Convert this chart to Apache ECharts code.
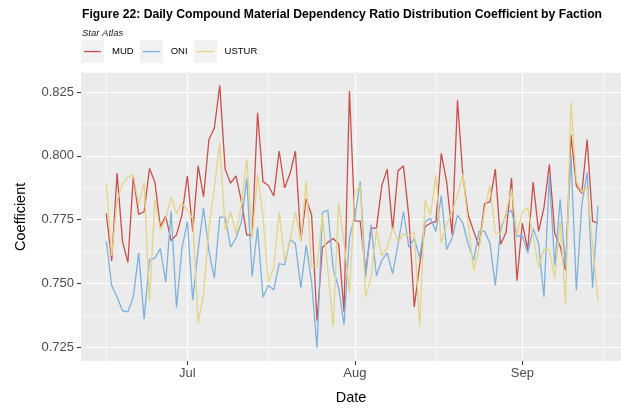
<!DOCTYPE html>
<html>
  <head>
    <meta charset="UTF-8">
    <title>Figure 22</title>
    <script src="https://cdn.jsdelivr.net/npm/echarts@6/dist/echarts.min.js"></script>
    <style>
      html, body { margin: 0; padding: 0; background: #fff; }
      #main { width: 621px; height: 410px; }
    </style>
  </head>
  <body>
    <div id="main"></div>
    <script type="text/javascript">
      // daily values, first day 2024-06-16, one value per day
      var startDay = Date.UTC(2024, 5, 16);
      var seriesNames = ['MUD', 'ONI', 'USTUR'];
      var seriesColors = ['#CB4E4C', '#7EB0DC', '#E3D487'];

      var mud = [0.7775,0.7588,0.7933,0.7665,0.7582,0.7918,0.7771,0.7781,0.7951,0.7897,
                 0.7723,0.7764,0.7668,0.7691,0.7768,0.7922,0.7704,0.7961,0.7839,0.8064,
                 0.8109,0.8276,0.7948,0.7893,0.7922,0.7823,0.7689,0.7689,0.8169,0.7899,
                 0.7884,0.7843,0.8019,0.7874,0.7930,0.8019,0.7668,0.7831,0.7768,0.7354,
                 0.7641,0.7661,0.7676,0.7655,0.7389,0.8254,0.7745,0.7744,0.7543,0.7717,
                 0.7717,0.7884,0.7948,0.7710,0.7942,0.7961,0.7762,0.7408,0.7575,0.7723,
                 0.7736,0.7742,0.8010,0.7897,0.7691,0.8218,0.7920,0.7766,0.7704,0.7646,
                 0.7813,0.7820,0.7948,0.7654,0.7701,0.7913,0.7511,0.7736,0.7633,0.7897,
                 0.7704,0.7796,0.7967,0.7697,0.7645,0.7551,0.8083,0.7882,0.7853,0.8064,
                 0.7744,0.7736];
      var oni = [0.7665,0.7492,0.7447,0.7393,0.7389,0.7447,0.7620,0.7360,0.7593,0.7599,
                 0.7637,0.7505,0.7784,0.7406,0.7637,0.7742,0.7434,0.7633,0.7796,0.7627,
                 0.7521,0.7760,0.7760,0.7642,0.7678,0.7740,0.7912,0.7527,0.7719,0.7447,
                 0.7492,0.7475,0.7578,0.7573,0.7672,0.7656,0.7483,0.7650,0.7505,0.7248,
                 0.7778,0.7787,0.7556,0.7483,0.7338,0.7681,0.7762,0.7899,0.7524,0.7730,
                 0.7530,0.7591,0.7620,0.7537,0.7655,0.7781,0.7642,0.7676,0.7601,0.7742,
                 0.7755,0.7704,0.7843,0.7633,0.7678,0.7768,0.7736,0.7652,0.7591,0.7704,
                 0.7704,0.7659,0.7492,0.7717,0.7768,0.7787,0.7685,0.7685,0.7619,0.7714,
                 0.7659,0.7447,0.7922,0.7569,0.7830,0.7563,0.8003,0.7473,0.7807,0.7935,
                 0.7483,0.7804];
      var ustur = [0.7893,0.7608,0.7826,0.7890,0.7916,0.7925,0.7807,0.7897,0.7428,0.7830,
                   0.7710,0.7753,0.7839,0.7772,0.7816,0.7787,0.7753,0.7344,0.7460,0.7717,
                   0.7874,0.8051,0.7710,0.7781,0.7695,0.7807,0.7987,0.7678,0.7927,0.7762,
                   0.7505,0.7563,0.7781,0.7588,0.7667,0.7781,0.7669,0.7899,0.7566,0.7565,
                   0.7768,0.7556,0.7331,0.7817,0.7665,0.7466,0.7857,0.7884,0.7447,0.7524,
                   0.7710,0.7608,0.7640,0.7719,0.7665,0.7694,0.7685,0.7701,0.7331,0.7826,
                   0.7768,0.7925,0.7659,0.7730,0.7781,0.7845,0.7929,0.7730,0.7550,0.7640,
                   0.7787,0.7884,0.7697,0.7695,0.7781,0.7871,0.7691,0.7781,0.7796,0.7685,
                   0.7563,0.7633,0.7633,0.7521,0.7742,0.7421,0.8211,0.7899,0.7858,0.7877,
                   0.7652,0.7428];

      // tick positions (timestamps on a plain value axis)
      var monthTicks = [Date.UTC(2024, 6, 1), Date.UTC(2024, 7, 1), Date.UTC(2024, 8, 1)];
      var monthLabels = ['Jul', 'Aug', 'Sep'];
      var midMonthTicks = [Date.UTC(2024, 5, 16), Date.UTC(2024, 6, 16), Date.UTC(2024, 7, 16), Date.UTC(2024, 8, 16)];
      var yTicks = [0.725, 0.750, 0.775, 0.800, 0.825];
      var yMinorTicks = [0.7375, 0.7625, 0.7875, 0.8125];

      var xMin = Date.UTC(2024, 5, 11, 7, 40);
      var xMax = Date.UTC(2024, 8, 19, 6, 15);
      var yMin = 0.7196, yMax = 0.8326;

      var font = 'Liberation Sans, Arial, Helvetica, sans-serif';

      function pairs(values) {
        var out = [];
        for (var i = 0; i < values.length; i++) {
          out.push([startDay + i * 86400000, values[i]]);
        }
        return out;
      }

      var chart = echarts.init(document.getElementById('main'), null, { renderer: 'canvas' });

      var allValues = [mud, oni, ustur];
      var series = [];
      for (var s = 0; s < seriesNames.length; s++) {
        series.push({
          name: seriesNames[s],
          type: 'line',
          xAxisIndex: 0,
          yAxisIndex: 0,
          showSymbol: false,
          symbol: 'none',
          lineStyle: { width: 1.3, color: seriesColors[s] },
          itemStyle: { color: seriesColors[s], borderWidth: 0 },
          data: pairs(allValues[s])
        });
      }

      // legend key backgrounds (grey squares behind the legend lines)
      var keyBoxes = [81, 140, 194].map(function (x) {
        return { type: 'rect', left: x, top: 40, z: -1, shape: { width: 23, height: 23 }, style: { fill: '#F2F2F2' } };
      });

      chart.setOption({
        animation: false,
        textStyle: { fontFamily: font },
        title: {
          text: 'Figure 22: Daily Compound Material Dependency Ratio Distribution Coefficient by Faction',
          left: 82,
          top: 9,
          padding: 0,
          itemGap: 7,
          textStyle: { fontFamily: font, fontSize: 12.2, fontWeight: 'bold', color: '#000' },
          subtext: 'Star Atlas',
          subtextStyle: { fontFamily: font, fontSize: 9.5, fontStyle: 'italic', color: '#1A1A1A' }
        },
        legend: {
          left: 81,
          top: 40,
          padding: 0,
          itemWidth: 26,
          itemHeight: 23,
          itemGap: 6,
          icon: 'path://M0,0 M26,0 M26,23 M0,23 M3,10.9 H20 V12.2 H3 Z',
          itemStyle: { borderWidth: 0 },
          textStyle: { fontFamily: font, fontSize: 9.5, color: '#000' },
          data: seriesNames
        },
        graphic: keyBoxes,
        grid: {
          left: 81,
          right: 0,
          top: 72.7,
          bottom: 45,
          show: true,
          backgroundColor: '#EBEBEB',
          borderWidth: 0
        },
        xAxis: [
          {
            type: 'value',
            min: xMin,
            max: xMax,
            name: 'Date',
            nameLocation: 'middle',
            nameGap: 29,
            nameTextStyle: { fontFamily: font, fontSize: 14.5, color: '#000' },
            axisLine: { show: false },
            axisTick: { show: true, length: 4, lineStyle: { color: '#333', width: 1 }, customValues: monthTicks },
            axisLabel: {
              fontFamily: font,
              fontSize: 13,
              color: '#4D4D4D',
              margin: 6,
              customValues: monthTicks,
              formatter: function (v) {
                var idx = monthTicks.indexOf(v);
                return idx >= 0 ? monthLabels[idx] : '';
              }
            },
            splitLine: { show: true, lineStyle: { color: '#FFFFFF', width: 1.1 } }
          },
          {
            type: 'value',
            min: xMin,
            max: xMax,
            axisLine: { show: false },
            axisTick: { show: false, customValues: midMonthTicks },
            axisLabel: { show: false, customValues: midMonthTicks },
            splitLine: { show: true, lineStyle: { color: '#FFFFFF', width: 0.55 } }
          }
        ],
        yAxis: [
          {
            type: 'value',
            min: yMin,
            max: yMax,
            name: 'Coefficient',
            nameLocation: 'middle',
            nameGap: 53,
            nameTextStyle: { fontFamily: font, fontSize: 14.5, color: '#000' },
            axisLine: { show: false },
            axisTick: { show: true, length: 4, lineStyle: { color: '#333', width: 1 }, customValues: yTicks },
            axisLabel: {
              fontFamily: font,
              fontSize: 13,
              color: '#4D4D4D',
              margin: 7,
              customValues: yTicks,
              formatter: function (v) { return v.toFixed(3); }
            },
            splitLine: { show: true, lineStyle: { color: '#FFFFFF', width: 1.1 } }
          },
          {
            type: 'value',
            min: yMin,
            max: yMax,
            axisLine: { show: false },
            axisTick: { show: false, customValues: yMinorTicks },
            axisLabel: { show: false, customValues: yMinorTicks },
            splitLine: { show: true, lineStyle: { color: '#FFFFFF', width: 0.55 } }
          }
        ],
        series: series
      });
    </script>
  </body>
</html>
